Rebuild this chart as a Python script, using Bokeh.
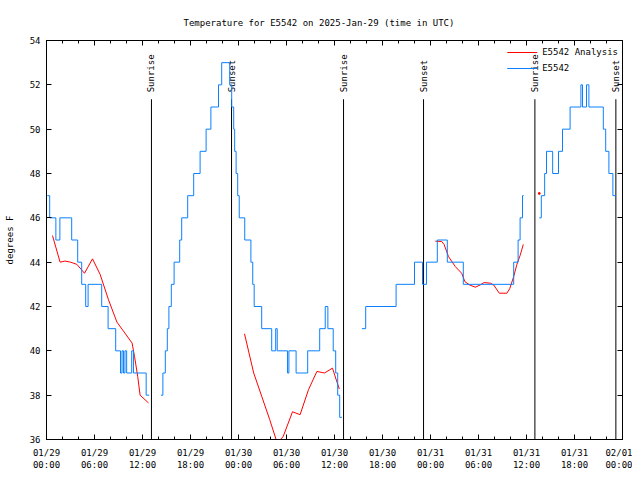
import math
from bokeh.plotting import figure
from bokeh.models import (Range1d, LinearAxis, FixedTicker, Legend, LegendItem,
                          ColumnDataSource)
from bokeh.core.properties import value
from bokeh.embed import file_html
from bokeh.resources import INLINE

# ---------------- data (hours since 2025-01-29 00:00 UTC, degrees F) ----------------
title_text = "Temperature for E5542 on 2025-Jan-29 (time in UTC)"

x_ticks = [0, 6, 12, 18, 24, 30, 36, 42, 48, 54, 60, 66, 72]
x_minor = list(range(0, 73, 2))
x_tick_labels = ["01/29\n00:00", "01/29\n06:00", "01/29\n12:00", "01/29\n18:00",
                 "01/30\n00:00", "01/30\n06:00", "01/30\n12:00", "01/30\n18:00",
                 "01/31\n00:00", "01/31\n06:00", "01/31\n12:00", "01/31\n18:00",
                 "02/01\n00:00"]
y_ticks = [36, 38, 40, 42, 44, 46, 48, 50, 52, 54]

# observations (E5542), level changes
obs1_hours = [0.1, 0.4, 1.17, 1.67, 3.15, 3.9, 4.4, 4.9, 5.2, 6.9, 7.7, 8.65, 9.25, 9.44,
              9.63, 9.81, 10.02, 10.65, 10.87, 12.46, 12.84]
obs1_temps = [47, 46, 45, 46, 45, 44, 43, 42, 43, 42, 41, 40, 39, 40,
              39, 40, 39, 40, 39, 38, 38]

obs2_hours = [14.3, 14.55, 14.85, 15.1, 15.3, 15.6, 15.95, 16.65, 16.9, 17.65, 18.4, 19.2,
              19.95, 20.55, 21.5, 21.9, 22.9, 23.15, 23.4, 23.52, 23.7, 23.9, 24.09, 24.78,
              25.55, 25.78, 25.96, 26.9, 28.15, 28.65, 28.84, 30.13, 30.3, 31.2, 32.65,
              34.15, 34.84, 35.17, 35.84, 36.15, 36.4, 36.65, 36.93]
obs2_temps = [38, 39, 40, 41, 42, 43, 44, 45, 46, 47, 48, 49,
              50, 51, 52, 53, 52, 51, 50, 49, 48, 47, 46, 45,
              44, 43, 42, 41, 40, 41, 40, 39, 40, 39, 40,
              41, 42, 41, 40, 39, 38, 37, 37]

obs3_hours = [39.43, 39.9, 43.7, 46.0, 47.0, 47.5, 48.85, 50.1, 52.1, 58.4, 58.95, 59.2,
              59.5, 59.65]
obs3_temps = [41, 42, 43, 44, 43, 44, 45, 44, 43, 44, 45, 46, 47, 47]

obs4_hours = [61.6, 61.85, 62.27, 62.5, 63.27, 64.0, 64.5, 65.45, 66.8, 67.0, 67.5, 67.8,
              69.6, 69.9, 70.3, 70.8, 71.2]
obs4_temps = [46, 47, 48, 49, 48, 49, 50, 51, 52, 51, 52, 51, 50, 49, 48, 47, 47]

# analysis (E5542 Analysis)
ana1_hours = [0.75, 1.7, 2.3, 3.0, 3.8, 4.75, 5.75, 6.7, 7.75, 8.8, 9.8, 10.7, 11.0, 11.4,
              11.7, 12.75]
ana1_temps = [45.2, 44.0, 44.05, 44.0, 43.9, 43.5, 44.15, 43.45, 42.3, 41.3, 40.8, 40.35,
              39.75, 38.85, 38.0, 37.65]

ana2_hours = [24.75, 25.9, 26.9, 27.9, 28.7, 29.2, 29.6, 30.75, 31.7, 32.75, 33.8, 34.75,
              35.75, 36.3, 36.6]
ana2_temps = [40.77, 39.0, 37.95, 36.9, 36.0, 35.95, 36.15, 37.25, 37.12, 38.25, 39.07, 39.0,
              39.22, 38.6, 38.28]

ana3_hours = [48.6, 49.4, 49.7, 50.25, 51.1, 51.9, 52.3, 52.9, 53.6, 54.2, 54.7, 55.5, 55.9,
              56.6, 57.55, 57.9, 58.4, 58.8, 59.2, 59.6]
ana3_temps = [44.95, 44.93, 44.8, 44.25, 43.8, 43.5, 43.12, 42.97, 42.87, 42.97, 43.08,
              43.05, 42.97, 42.6, 42.6, 42.8, 43.35, 43.9, 44.3, 44.8]

ana4_hours = [61.6]
ana4_temps = [47.1]

sun_hours = [13.12, 23.13, 37.13, 47.13, 61.05, 71.17]
sun_labels = ["Sunrise", "Sunset", "Sunrise", "Sunset", "Sunrise", "Sunset"]

# ---------------- styling ----------------
FONT = "DejaVu Sans Mono"
FS = "9px"
RED = "#ff0000"
BLUE = "#0a80ff"
Y0, Y1 = 36, 54
LINE_TOP = 51.35
LABEL_Y = 51.66

p = figure(width=632, height=472, x_range=Range1d(0, 72), y_range=Range1d(Y0, Y1),
           output_backend="svg", toolbar_location=None,
           x_axis_type=None, y_axis_type=None,
           min_border_left=46, min_border_right=10, min_border_top=40, min_border_bottom=32)
p.xgrid.visible = False
p.ygrid.visible = False
p.outline_line_color = "black"
p.outline_line_alpha = 1.0
p.background_fill_color = "white"
p.border_fill_color = "white"

p.title.text = title_text
p.title.text_font = FONT
p.title.text_font_size = FS
p.title.text_font_style = "normal"
p.title.text_color = "black"
p.title.align = "left"
p.title.offset = 137
p.title.standoff = 26


def style_axis(ax):
    ax.axis_line_color = "black"
    ax.major_tick_line_color = "black"
    ax.minor_tick_line_color = "black"
    ax.major_tick_in = 5
    ax.major_tick_out = 0
    ax.minor_tick_in = 3
    ax.minor_tick_out = 0
    ax.major_label_text_font = FONT
    ax.major_label_text_font_size = FS
    ax.major_label_text_color = "black"
    return ax


xb = style_axis(LinearAxis(ticker=FixedTicker(ticks=x_ticks, minor_ticks=x_minor)))
xb.major_label_overrides = dict(zip(x_ticks, x_tick_labels))
xb.major_label_standoff = 8
p.add_layout(xb, "below")

xt = style_axis(LinearAxis(ticker=FixedTicker(ticks=x_ticks, minor_ticks=x_minor)))
xt.major_label_overrides = {t: "" for t in x_ticks}
xt.major_label_standoff = 0
p.add_layout(xt, "above")

yl = style_axis(LinearAxis(ticker=FixedTicker(ticks=y_ticks, minor_ticks=[])))
yl.axis_label = "degrees F"
yl.axis_label_text_font = FONT
yl.axis_label_text_font_size = FS
yl.axis_label_text_font_style = "normal"
yl.axis_label_text_color = "black"
yl.axis_label_standoff = 12
yl.major_label_standoff = 6
p.add_layout(yl, "left")

yr = style_axis(LinearAxis(ticker=FixedTicker(ticks=y_ticks, minor_ticks=[])))
yr.major_label_overrides = {t: "" for t in y_ticks}
yr.major_label_standoff = 0
p.add_layout(yr, "right")

# sunrise / sunset markers
sun_src = ColumnDataSource(dict(x=sun_hours, label=sun_labels,
                                y0=[Y0] * len(sun_hours), y1=[LINE_TOP] * len(sun_hours),
                                ly=[LABEL_Y] * len(sun_hours)))
p.segment(x0="x", y0="y0", x1="x", y1="y1", source=sun_src, line_color="black", line_width=1)
p.text(x="x", y="ly", text="label", source=sun_src, angle=math.pi / 2,
       text_align="left", text_baseline="middle", text_font=value(FONT),
       text_font_size=value(FS), text_color="black")

# analysis lines
red_rs = []
for hs, ts in [(ana1_hours, ana1_temps), (ana2_hours, ana2_temps), (ana3_hours, ana3_temps)]:
    red_rs.append(p.line(hs, ts, line_color=RED, line_width=1))
p.scatter(ana4_hours, ana4_temps, marker="square", size=1.5, color=RED)

# observations
blue_rs = []
for hs, ts in [(obs1_hours, obs1_temps), (obs2_hours, obs2_temps),
               (obs3_hours, obs3_temps), (obs4_hours, obs4_temps)]:
    blue_rs.append(p.step(hs, ts, mode="after", line_color=BLUE, line_width=1))

legend = Legend(items=[LegendItem(label="E5542 Analysis", renderers=red_rs),
                       LegendItem(label="E5542", renderers=blue_rs)],
                location="top_right", border_line_color=None, background_fill_alpha=0,
                label_text_font=FONT, label_text_font_size=FS, label_text_color="black",
                glyph_width=30, glyph_height=16, label_height=16, spacing=0,
                padding=2, margin=4)
p.add_layout(legend)

open("out.html", "w").write(file_html(p, INLINE))
